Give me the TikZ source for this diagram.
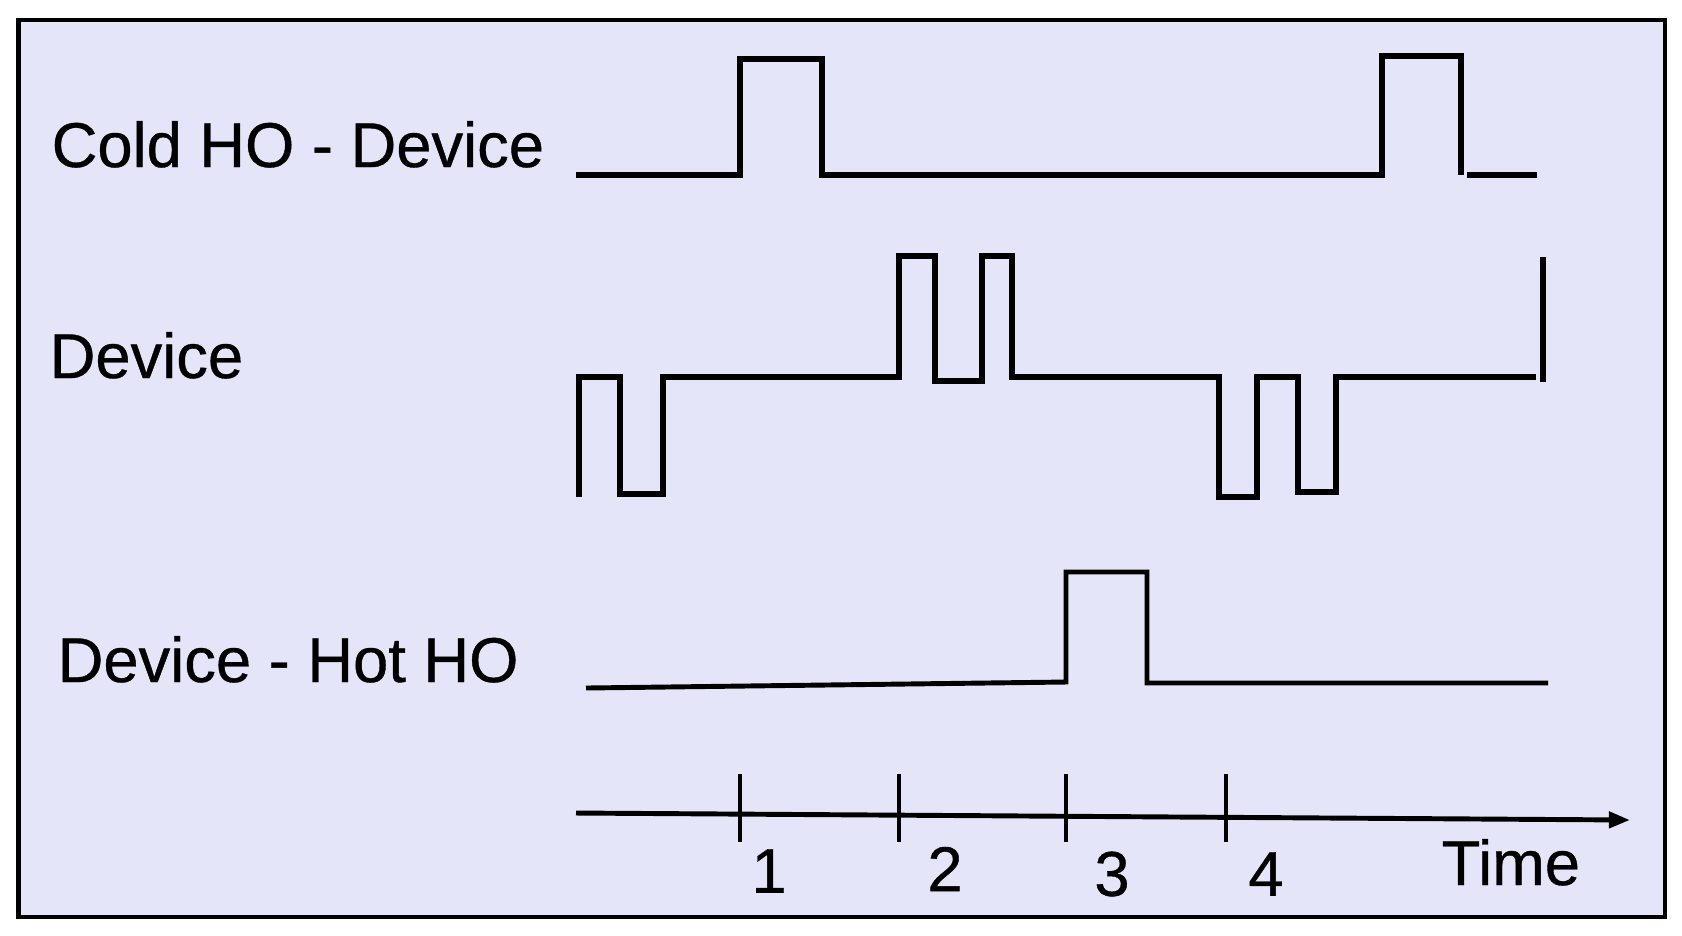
\documentclass[tikz,border=0pt]{standalone}
\usepackage{fontspec}
\setmainfont{Liberation Sans}
\newfontfamily\lblfont{Liberation Sans}[FakeBold=0.6]
\usepackage{tikz}
\usetikzlibrary{arrows.meta}
\definecolor{panelbg}{RGB}{229,229,250}

\begin{document}
\begin{tikzpicture}[x=0.01cm,y=-0.01cm]
  \tikzset{signal/.style={draw=black,line width=1.5pt}}
  \tikzset{thinsignal/.style={draw=black,line width=1.4pt}}
  \tikzset{timetick/.style={draw=black,line width=1.3pt}}
  \tikzset{rowlabel/.style={anchor=base west,inner sep=0pt,font=\lblfont\fontsize{18}{21}\selectfont}}
  \tikzset{ticklabel/.style={inner sep=0pt,font=\lblfont\fontsize{18}{21}\selectfont}}
  \useasboundingbox (0,0) rectangle (1682,935);
  % panel
  \draw[fill=panelbg,line width=1.4pt] (18.5,20) rectangle (1665,917);
  % row labels
  \node[rowlabel] (lcold) at (51,167) {Cold HO - Device};
  \node[rowlabel] (ldev) at (49,378) {Device};
  \node[rowlabel] (lhot) at (57,682) {Device - Hot HO};
  % cold HO - device
  \draw[signal] (576,175) -- (740,175) -- (740,59) -- (822,59) -- (822,178);
  \draw[signal] (822,175) -- (1382,175) -- (1382,56) -- (1461,56) -- (1461,175);
  \draw[signal] (1467,175) -- (1537,175);
  % device
  \draw[signal] (579,497) -- (579,377) -- (620,377) -- (620,494) -- (663,494)
    -- (663,377) -- (899,377) -- (899,256) -- (935,256) -- (935,381)
    -- (982,381) -- (982,256) -- (1012,256) -- (1012,377) -- (1219,377)
    -- (1219,497) -- (1257,497) -- (1257,377) -- (1298,377) -- (1298,492)
    -- (1336,492) -- (1336,377) -- (1536,377);
  \draw[signal] (1543,257) -- (1543,382);
  % device - hot HO
  \draw[thinsignal] (586,688) -- (1066,682) -- (1066,572) -- (1147,572)
    -- (1147,683) -- (1548,683);
  % time axis
  \coordinate (tstart) at (576,813);
  \coordinate (tend) at (1630,820);
  \draw[line width=1.4pt,-{Triangle[length=6pt,width=4.5pt]}] (tstart) -- (tend);
  \draw[timetick] (740,774) -- (740,842);
  \draw[timetick] (899,774) -- (899,842);
  \draw[timetick] (1066,774) -- (1066,842);
  \draw[timetick] (1226,774) -- (1226,842);
  \node[ticklabel] (t1) at (769,871) {1};
  \node[ticklabel] (t2) at (945,869) {2};
  \node[ticklabel] (t3) at (1112,874) {3};
  \node[ticklabel] (t4) at (1266,874) {4};
  \node[rowlabel] (ltime) at (1441,885) {Time};
\end{tikzpicture}
\end{document}
